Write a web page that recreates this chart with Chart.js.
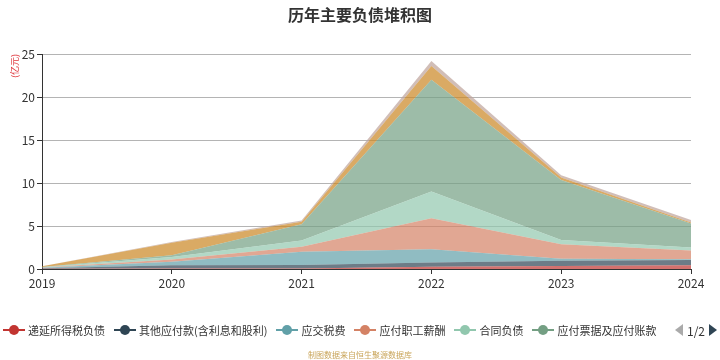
<!DOCTYPE html>
<html><head><meta charset="utf-8">
<script src="https://cdn.jsdelivr.net/npm/chart.js@4/dist/chart.umd.min.js"></script>
<style>
html,body{margin:0;padding:0;background:#fff;}
#wrap{position:relative;width:720px;height:360px;font-family:"Noto Sans CJK SC","Noto Sans",sans-serif;}
#c{position:absolute;left:0;top:0;}
#title{position:absolute;top:2px;left:0;width:720px;text-align:center;font-weight:bold;font-size:16px;color:#333;}
#legend{position:absolute;top:321px;left:3px;height:18px;display:flex;align-items:center;font-size:11px;color:#333;white-space:nowrap;}
.item{display:flex;align-items:center;margin-right:9px;}
.item svg{margin-right:3px;}
#pager{position:absolute;top:321px;left:674px;height:18px;display:flex;align-items:center;font-size:12px;color:#333;}
#footer{position:absolute;top:349px;left:0;width:720px;text-align:center;font-size:8px;color:#c9a55a;}
</style></head>
<body>
<div id="wrap">
<canvas id="c" width="720" height="360"></canvas>
<div id="title">历年主要负债堆积图</div>
<div id="legend"></div>
<div id="pager"><svg width="10" height="14"><polygon points="9,1 9,13 1,7" fill="#aaa"/></svg><span style="margin:0 3px">1/2</span><svg width="10" height="14"><polygon points="1,1 1,13 9,7" fill="#2f4554"/></svg></div>
<div id="footer">制图数据来自恒生聚源数据库</div>
</div>
<script>
const years = ['2019','2020','2021','2022','2023','2024'];
const seriesNames = ['递延所得税负债','其他应付款(含利息和股利)','应交税费','应付职工薪酬','合同负债','应付票据及应付账款','短期借款','其他流动负债'];
const deferredTax   = [0.02, 0.05, 0.05, 0.25, 0.35, 0.45];
const otherPayables = [0.08, 0.40, 0.42, 0.50, 0.60, 0.60];
const taxesPayable  = [0.05, 0.40, 1.53, 1.55, 0.25, 0.08];
const payroll       = [0.03, 0.25, 0.60, 3.60, 1.67, 1.02];
const contractLiab  = [0.02, 0.30, 0.70, 3.10, 0.50, 0.35];
const notesAccounts = [0.03, 0.20, 1.90, 13.00, 6.98, 2.80];
const shortLoans    = [0.08, 1.45, 0.30, 1.60, 0.30, 0.10];
const otherCurrent  = [0.02, 0.08, 0.15, 0.60, 0.25, 0.30];
const yTicks = [0, 5, 10, 15, 20, 25];

const palette = ['#c23531','#2f4554','#61a0a8','#d48265','#91c7ae','#749f83','#ca8622','#bda29a'];
const seriesData = [deferredTax, otherPayables, taxesPayable, payroll, contractLiab, notesAccounts, shortLoans, otherCurrent];

function hexA(h, a){const r=parseInt(h.slice(1,3),16),g=parseInt(h.slice(3,5),16),b=parseInt(h.slice(5,7),16);return `rgba(${r},${g},${b},${a})`;}

const datasets = seriesData.map((d,i)=>({
  label: seriesNames[i], data: d,
  backgroundColor: hexA(palette[i],0.7), borderColor: hexA(palette[i],0.7),
  borderWidth: 0, pointRadius: 0, fill: i===0 ? 'origin' : '-1', tension: 0
}));

// legend (first page: 6 items)
const leg = document.getElementById('legend');
for (let i=0;i<6;i++){
  const it=document.createElement('div');it.className='item';
  it.innerHTML=`<svg width="22" height="12"><line x1="0" y1="6" x2="22" y2="6" stroke="${palette[i]}" stroke-width="2"/><circle cx="11" cy="6" r="5" fill="${palette[i]}"/></svg><span>${seriesNames[i]}</span>`;
  leg.appendChild(it);
}

const FONT = '"Noto Sans CJK SC","Noto Sans",sans-serif';
new Chart(document.getElementById('c'), {
  type: 'line',
  data: { labels: years, datasets },
  options: {
    responsive: false, animation: false,
    layout: { padding: { left: 0, right: 29, top: 54, bottom: 71 } },
    plugins: { legend: { display: false }, title: { display: false }, tooltip: { enabled: false } },
    scales: {
      x: {
        offset: false,
        grid: { drawOnChartArea: false, drawTicks: true, tickLength: 5, tickColor: '#333' },
        border: { display: true, color: '#333', width: 1 },
        ticks: { color: '#333', font: { size: 12, family: FONT }, padding: 2, maxRotation: 0 },
        afterFit: s => { s.height = 20; }
      },
      y: {
        stacked: true, min: 0, max: 25,
        afterBuildTicks: s => { s.ticks = yTicks.map(v => ({ value: v })); },
        grid: { color: '#b4b4b4', lineWidth: 1, drawTicks: true, tickLength: 5, tickColor: '#333' },
        border: { display: true, color: '#333', width: 1 },
        ticks: { color: '#333', font: { size: 12, family: FONT }, padding: 2 },
        title: { display: true, text: '(亿元)', color: '#e0383e', align: 'end', font: { size: 9, family: FONT }, padding: { top: 9, bottom: 0 } },
        afterFit: s => { s.width = 42; }
      }
    }
  }
});
</script>
</body></html>
